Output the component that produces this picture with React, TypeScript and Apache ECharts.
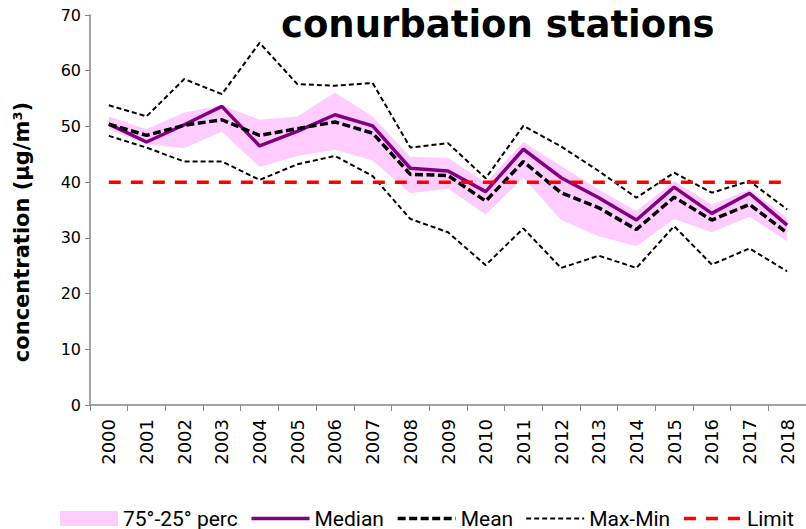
import React, { useEffect, useRef } from "react";
import * as echarts from "echarts";

const years = ["2000","2001","2002","2003","2004","2005","2006","2007","2008","2009","2010","2011","2012","2013","2014","2015","2016","2017","2018"];
const maxVals = [53.8, 51.8, 58.5, 55.8, 65.0, 57.6, 57.3, 57.8, 46.2, 47.0, 40.7, 50.1, 46.4, 42.0, 37.2, 41.7, 38.1, 40.2, 35.1];
const minVals = [48.3, 46.2, 43.7, 43.7, 40.4, 43.2, 44.7, 41.1, 33.4, 31.0, 25.1, 31.7, 24.6, 26.8, 24.6, 32.1, 25.2, 28.1, 24.0];
const p75 = [51.8, 49.5, 52.5, 53.8, 51.2, 51.8, 56.1, 51.8, 44.5, 44.4, 39.9, 47.2, 42.9, 38.7, 34.8, 40.2, 36.0, 38.7, 33.6];
const p25 = [49.5, 46.8, 46.1, 49.1, 42.7, 44.7, 45.8, 43.9, 38.0, 38.8, 34.2, 40.8, 33.2, 30.3, 28.5, 33.4, 31.0, 33.8, 29.4];
const medianVals = [50.4, 47.2, 50.3, 53.6, 46.5, 49.1, 52.1, 50.1, 42.5, 42.0, 38.3, 45.9, 40.8, 37.2, 33.2, 39.1, 34.4, 38.0, 32.3];
const meanVals = [50.4, 48.4, 50.2, 51.2, 48.4, 49.6, 50.8, 48.8, 41.4, 41.2, 36.6, 43.7, 38.1, 35.4, 31.5, 37.3, 33.2, 36.0, 30.9];
const limitVals = years.map(() => 40);
const yTicks = { min: 0, max: 70, interval: 10 };

const title = "conurbation stations";
const yName = "concentration (µg/m³)";

export default function App() {
  const ref = useRef<HTMLDivElement>(null);
  useEffect(() => {
    if (!ref.current) return;
    const chart = echarts.init(ref.current, null, { renderer: "svg" });
    const bandDiff = p75.map((v, i) => +(v - p25[i]).toFixed(2));
    const legendFont = { fontFamily: "Roboto", fontSize: 21, color: "#000" };
    chart.setOption({
      animation: false,
      backgroundColor: "#fff",
      title: {
        text: title,
        left: 276,
        top: 1,
        textStyle: { fontFamily: "DejaVu Sans", fontWeight: "bold", fontSize: 37, color: "#000" },
      },
      graphic: [
        {
          type: "text",
          x: 22,
          y: 232,
          rotation: Math.PI / 2,
          style: {
            text: yName,
            fontFamily: "DejaVu Sans",
            fontWeight: "bold",
            fontSize: 21,
            fill: "#000",
            align: "center",
            verticalAlign: "middle",
          },
        },
      ],
      legend: {
        left: 55,
        top: 503,
        itemWidth: 58,
        itemHeight: 15,
        itemGap: 12,
        textStyle: legendFont,
        selectedMode: false,
        itemStyle: { opacity: 0 },
        data: [
          { name: "75°-25° perc", icon: "rect", itemStyle: { color: "#ffccff", borderWidth: 0, opacity: 1 } },
          { name: "Median", lineStyle: { color: "#800080", width: 3.5, type: "solid" } },
          { name: "Mean", lineStyle: { color: "#000", width: 3.5, type: [8, 3.5] } },
          { name: "Max-Min", lineStyle: { color: "#000", width: 2, type: [5, 3] } },
          { name: "Limit", lineStyle: { color: "#ff0000", width: 3.5, type: [12, 10] } },
        ],
      },
      grid: { left: 90, top: 15, height: 390, width: 726 },
      xAxis: {
        type: "category",
        data: years,
        boundaryGap: true,
        axisLine: { lineStyle: { color: "#868686", width: 1.5 } },
        axisTick: { show: true, length: 6, lineStyle: { color: "#868686" } },
        axisLabel: { rotate: 90, margin: 14, fontFamily: "DejaVu Sans", fontSize: 18, color: "#000" },
      },
      yAxis: {
        type: "value",
        min: yTicks.min,
        max: yTicks.max,
        interval: yTicks.interval,
        axisLine: { show: true, lineStyle: { color: "#868686", width: 1.5 } },
        axisTick: { show: true, length: 5, lineStyle: { color: "#868686" } },
        splitLine: { show: false },
        axisLabel: { margin: 9, fontFamily: "DejaVu Sans", fontSize: 16, color: "#000" },
      },
      series: [
        {
          name: "bandBase",
          type: "line",
          data: p25,
          stack: "band",
          symbol: "none",
          lineStyle: { width: 0, opacity: 0 },
          silent: true,
          z: 1,
        },
        {
          name: "75°-25° perc",
          type: "line",
          data: bandDiff,
          stack: "band",
          symbol: "none",
          lineStyle: { width: 0, opacity: 0 },
          itemStyle: { color: "#ffccff" },
          areaStyle: { color: "#ffccff", opacity: 1 },
          silent: true,
          z: 1,
        },
        {
          name: "Max-Min",
          type: "line",
          data: maxVals,
          symbol: "none",
          itemStyle: { color: "#000" },
          lineStyle: { color: "#000", width: 2, type: [5, 3] },
          z: 3,
        },
        {
          name: "Max-Min",
          type: "line",
          data: minVals,
          symbol: "none",
          itemStyle: { color: "#000" },
          lineStyle: { color: "#000", width: 2, type: [5, 3] },
          z: 3,
        },
        {
          name: "Median",
          type: "line",
          data: medianVals,
          symbol: "none",
          itemStyle: { color: "#800080" },
          lineStyle: { color: "#800080", width: 3.5 },
          z: 4,
        },
        {
          name: "Mean",
          type: "line",
          data: meanVals,
          symbol: "none",
          itemStyle: { color: "#000" },
          lineStyle: { color: "#000", width: 3.5, type: [8, 3.5] },
          z: 5,
        },
        {
          name: "Limit",
          type: "line",
          data: limitVals,
          symbol: "none",
          itemStyle: { color: "#ff0000" },
          lineStyle: { color: "#ff0000", width: 3.5, type: [12, 10] },
          z: 6,
        },
      ],
    });
    return () => chart.dispose();
  }, []);
  return <div ref={ref} style={{ width: 806, height: 529, position: "absolute", left: 0, top: 0 }} />;
}
